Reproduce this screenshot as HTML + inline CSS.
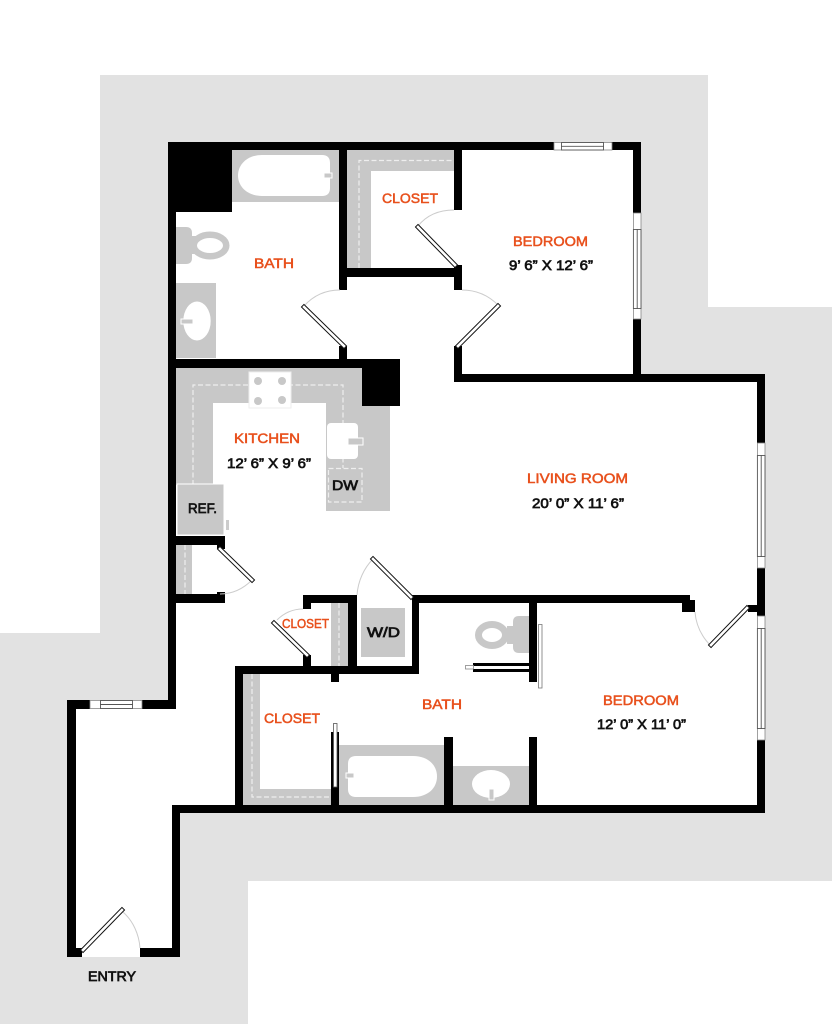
<!DOCTYPE html>
<html><head><meta charset="utf-8"><style>
html,body{margin:0;padding:0;background:#fff;width:832px;height:1024px;overflow:hidden}
svg{display:block}
text{font-family:"Liberation Sans",sans-serif;font-size:13.5px;paint-order:stroke}
.o{fill:#e8501c;stroke:#e8501c;stroke-width:.5}
.k{fill:#111;stroke:#111;stroke-width:.7}
.w{fill:#000}
.g{fill:#c8c8c8}
.f{fill:#fff}
.dash{fill:none;stroke:#eee;stroke-width:1.2;stroke-dasharray:5 2.5}
.arc{fill:none;stroke:#ccc;stroke-width:1}
.d1{stroke:#111;stroke-width:4.6;stroke-linecap:square;fill:none}
.d2{stroke:#fff;stroke-width:2.6;stroke-linecap:square;fill:none}
.wo{fill:#fff;stroke:#888;stroke-width:.8}
.fr{fill:#fff;stroke:#555;stroke-width:.9}
.ln{stroke:#555;stroke-width:.9}
</style></head><body>
<svg xmlns="http://www.w3.org/2000/svg" width="832" height="1024" viewBox="0 0 832 1024">
<polygon fill="#e2e2e2" points="100,75 708,75 708,307 832,307 832,881 248,881 248,1024 0,1024 0,633 100,633"/>
<polygon fill="#fff" points="168,142 641,142 641,374 765,374 765,813 180,813 180,957 67,957 67,700 168,700"/>

<!-- upper bath fixtures -->
<rect class="g" x="232" y="150" width="107" height="52"/>
<path class="f" d="M262,155H322Q330,155 330,163V188Q330,196 322,196H262C248,196 238,187 238,175.500C238,164 248,155 262,155Z"/>
<rect class="g" x="324" y="173" width="8" height="5" stroke="#fff" stroke-width="1"/>
<path class="g" d="M176,227H186Q192,227 192,233V258Q192,264 186,264H176Z"/>
<rect class="g" x="190" y="236" width="6" height="18"/>
<ellipse cx="210" cy="245.500" rx="16.250" ry="10.750" fill="#fff" stroke="#c8c8c8" stroke-width="6.500"/>
<rect class="g" x="176" y="283" width="40" height="75"/>
<ellipse class="f" cx="197" cy="321" rx="13.700" ry="19.500"/>
<rect class="g" x="181" y="319" width="12" height="5" stroke="#fff" stroke-width="1"/>

<!-- upper closet -->
<rect class="g" x="347" y="150" width="107" height="118"/>
<rect class="f" x="371" y="171" width="83" height="97"/>
<path class="dash" d="M359,268V160.500H454"/>

<!-- kitchen -->
<polygon class="g" points="176,368 362,368 362,406 390,406 390,511 326,511 326,403 213,403 213,485 176,485"/>
<path class="dash" d="M193,485V385H343V468"/>
<rect x="249" y="372" width="42" height="36" fill="#fff" stroke="#eee" stroke-width="1"/>
<circle class="g" cx="258" cy="381" r="4"/><circle class="g" cx="282" cy="381" r="4"/>
<circle class="g" cx="258" cy="401" r="4"/><circle class="g" cx="282" cy="400" r="4"/>
<rect class="f" x="327" y="423" width="31" height="36" rx="4"/>
<rect class="g" x="348" y="438" width="15" height="7" stroke="#fff" stroke-width="1"/>
<rect x="328.500" y="468.500" width="33.500" height="33.500" fill="#c8c8c8" stroke="#eee" stroke-width="1.200" stroke-dasharray="5 2.500"/>
<rect x="177" y="484" width="47" height="51" fill="#c8c8c8" stroke="#fff" stroke-width="1"/>
<rect x="226" y="520" width="3" height="10" fill="#ccc"/>
<rect class="g" x="176" y="545" width="16" height="49"/>
<path class="dash" d="M185,545V594"/>

<!-- W/D, small closet -->
<rect class="g" x="361" y="608" width="44" height="49"/>
<rect class="g" x="331" y="603" width="17" height="63"/>
<path class="dash" d="M339,603V666"/>

<!-- lower closet -->
<polygon class="g" points="243,674 260,674 260,789 331,789 331,805 243,805"/>
<path class="dash" d="M252,674V797H331"/>

<!-- lower bath -->
<rect class="g" x="339" y="745" width="105" height="60"/>
<path class="f" d="M356,756H413C428,756 437,765 437,776.500C437,788 428,797 413,797H356Q348,797 348,789V764Q348,756 356,756Z"/>
<rect class="g" x="346" y="773" width="8" height="5" stroke="#fff" stroke-width="1"/>
<rect class="g" x="453" y="766" width="76" height="39"/>
<ellipse class="f" cx="491" cy="784" rx="19" ry="14"/>
<rect class="g" x="489" y="789" width="5" height="11" stroke="#fff" stroke-width="1"/>
<path class="g" d="M529,616H519Q513,616 513,622V647Q513,653 519,653H529Z"/>
<rect class="g" x="507" y="626" width="8" height="18"/>
<ellipse cx="492" cy="635" rx="13.500" ry="10.500" fill="#fff" stroke="#c8c8c8" stroke-width="7"/>

<!-- walls -->
<g class="w">
<rect x="168" y="142" width="386" height="8"/><rect x="611" y="142" width="30" height="8"/>
<rect x="168" y="142" width="64" height="70"/>
<rect x="168" y="142" width="8" height="567"/>
<rect x="67" y="700" width="23" height="9"/><rect x="142" y="700" width="34" height="9"/>
<rect x="67" y="700" width="9" height="257"/>
<rect x="67" y="948" width="15" height="9"/>
<rect x="140" y="948" width="40" height="9"/>
<rect x="172" y="805" width="8" height="152"/>
<rect x="172" y="805" width="593" height="8"/>
<rect x="339" y="142" width="8" height="148"/><rect x="339" y="346" width="8" height="14"/>
<rect x="347" y="268" width="107" height="9"/>
<rect x="454" y="150" width="8" height="60"/><rect x="454" y="265" width="8" height="25"/><rect x="454" y="346" width="8" height="36"/>
<rect x="633" y="150" width="8" height="63"/><rect x="633" y="319" width="8" height="63"/>
<rect x="454" y="374" width="311" height="8"/>
<rect x="757" y="374" width="8" height="69"/><rect x="757" y="568" width="8" height="48"/><rect x="757" y="740" width="8" height="73"/>
<rect x="748" y="605" width="17" height="7"/>
<rect x="176" y="359" width="224" height="9"/><rect x="362" y="359" width="38" height="47"/>
<rect x="176" y="536" width="49" height="9"/><rect x="217" y="545" width="8" height="4"/>
<rect x="176" y="594" width="49" height="9"/><rect x="217" y="592" width="8" height="2"/>
<rect x="303" y="595" width="54" height="8"/><rect x="303" y="603" width="8" height="6"/>
<rect x="348" y="595" width="9" height="79"/>
<rect x="303" y="655" width="8" height="11"/>
<rect x="235" y="666" width="184" height="8"/><rect x="235" y="666" width="8" height="147"/>
<rect x="331" y="674" width="8" height="8"/>
<rect x="412" y="595" width="7" height="79"/>
<rect x="412" y="595" width="278" height="8"/>
<rect x="682" y="603" width="13" height="9"/><rect x="690" y="600" width="5" height="4"/>
<rect x="529" y="603" width="8" height="79"/><rect x="529" y="737" width="8" height="70"/>
<rect x="444" y="737" width="9" height="70"/>
<rect x="331" y="732" width="8" height="75"/>
<rect x="473" y="663" width="56" height="9"/>
</g>
<rect class="f" x="473" y="666" width="56" height="3"/>
<rect x="465.500" y="665.500" width="8" height="3.500" fill="#fff" stroke="#888" stroke-width=".8"/>
<rect x="538.500" y="624.500" width="3.500" height="63.500" fill="#fff" stroke="#777" stroke-width=".8"/>
<rect x="333.500" y="723.500" width="3.500" height="63.500" fill="#fff" stroke="#555" stroke-width=".8"/>

<!-- windows -->
<g>
<rect class="wo" x="554" y="142.500" width="58" height="7.500"/>
<rect class="fr" x="561.500" y="142.500" width="42" height="7.500"/><line class="ln" x1="561" y1="146.300" x2="604" y2="146.300"/>
<rect class="wo" x="633.400" y="213" width="7.600" height="106"/>
<rect class="fr" x="633.400" y="229.500" width="7.600" height="79"/><line class="ln" x1="637.200" y1="229" x2="637.200" y2="309"/>
<rect class="wo" x="757.400" y="443" width="7.600" height="125"/>
<rect class="fr" x="757.400" y="455.500" width="7.600" height="101"/><line class="ln" x1="761.200" y1="455" x2="761.200" y2="557"/>
<rect class="wo" x="757.400" y="616" width="7.600" height="124"/>
<rect class="fr" x="757.400" y="628.500" width="7.600" height="100"/><line class="ln" x1="761.200" y1="628" x2="761.200" y2="729"/>
<rect class="wo" x="90" y="700.500" width="52" height="8"/>
<rect class="fr" x="100.500" y="700.500" width="32" height="8"/><line class="ln" x1="100" y1="704.500" x2="133" y2="704.500"/>
</g>

<!-- doors -->
<g>
<path class="arc" d="M418,226C426,216 438,210 454,210"/>
<path class="d1" d="M418,227L455,265"/><path class="d2" d="M418,227L455,265"/>
<path class="arc" d="M304,306C313,296 325,290 340,290"/>
<path class="d1" d="M304,307L344,346"/><path class="d2" d="M304,307L344,346"/>
<path class="arc" d="M498,305C489,296 477,290 462,290"/>
<path class="d1" d="M498,306L458,346"/><path class="d2" d="M498,306L458,346"/>
<path class="arc" d="M252,580C243,589 232,594 220,594"/>
<path class="d1" d="M220,549L252,580"/><path class="d2" d="M220,549L252,580"/>
<path class="arc" d="M277,620C284,613 292,609 303,609"/>
<path class="d1" d="M274,623L307,655"/><path class="d2" d="M274,623L307,655"/>
<path class="arc" d="M373,559C364,568 358,581 357,595"/>
<path class="d1" d="M373,559L411,597"/><path class="d2" d="M373,559L411,597"/>
<path class="arc" d="M711,646C702,637 696,625 695,612"/>
<path class="d1" d="M747,608L711,645"/><path class="d2" d="M747,608L711,645"/>
<path class="arc" d="M123,912C133,921 139,934 140,948"/>
<path class="d1" d="M122,910L83,950"/><path class="d2" d="M122,910L83,950"/>
</g>

<!-- labels -->
<text class="o" x="382" y="203" textLength="56" lengthAdjust="spacingAndGlyphs">CLOSET</text>
<text class="o" x="254" y="268" textLength="40" lengthAdjust="spacingAndGlyphs">BATH</text>
<text class="o" x="513" y="246" textLength="75" lengthAdjust="spacingAndGlyphs">BEDROOM</text>
<text class="k" x="509" y="270" textLength="84" lengthAdjust="spacingAndGlyphs">9’ 6” X 12’ 6”</text>
<text class="o" x="234" y="443" textLength="66" lengthAdjust="spacingAndGlyphs">KITCHEN</text>
<text class="k" x="227" y="468" textLength="84" lengthAdjust="spacingAndGlyphs">12’ 6” X 9’ 6”</text>
<text class="k" x="332" y="490" textLength="26" lengthAdjust="spacingAndGlyphs">DW</text>
<text class="k" x="188" y="513" textLength="29" lengthAdjust="spacingAndGlyphs">REF.</text>
<text class="o" x="527" y="483" textLength="101" lengthAdjust="spacingAndGlyphs">LIVING ROOM</text>
<text class="k" x="532" y="508" textLength="92" lengthAdjust="spacingAndGlyphs">20’ 0” X 11’ 6”</text>
<text class="o" x="282" y="628" textLength="47" lengthAdjust="spacingAndGlyphs" style="font-size:13px">CLOSET</text>
<text class="k" x="367" y="637" textLength="33" lengthAdjust="spacingAndGlyphs">W/D</text>
<text class="o" x="264" y="723" textLength="56" lengthAdjust="spacingAndGlyphs">CLOSET</text>
<text class="o" x="422" y="709" textLength="40" lengthAdjust="spacingAndGlyphs">BATH</text>
<text class="o" x="603" y="705" textLength="76" lengthAdjust="spacingAndGlyphs">BEDROOM</text>
<text class="k" x="597" y="729" textLength="89" lengthAdjust="spacingAndGlyphs">12’ 0” X 11’ 0”</text>
<text class="k" x="88" y="981" textLength="48" lengthAdjust="spacingAndGlyphs">ENTRY</text>
</svg>
</body></html>
